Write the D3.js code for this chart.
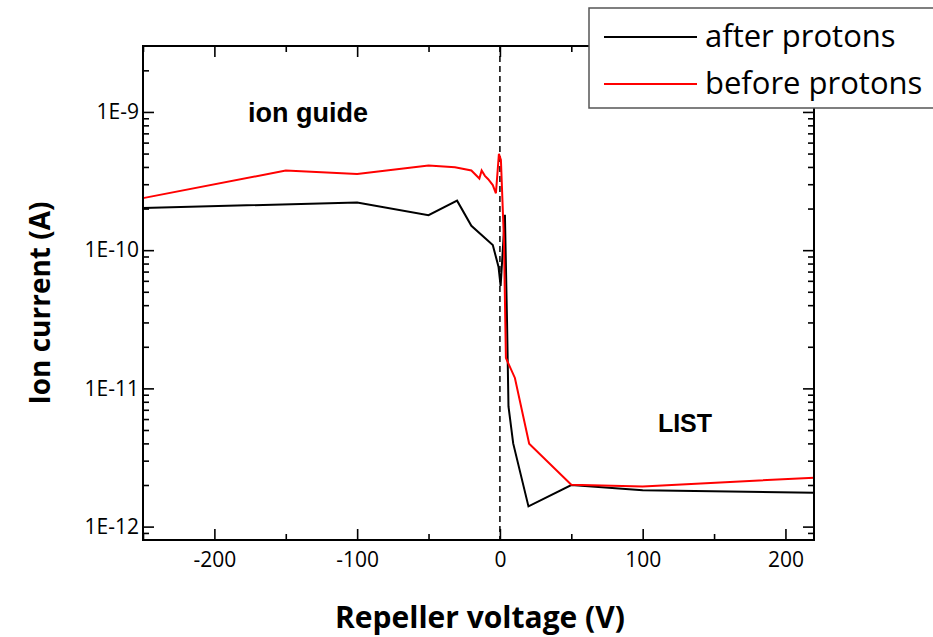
<!DOCTYPE html>
<html>
<head>
<meta charset="utf-8">
<script src="https://cdn.jsdelivr.net/npm/d3@7"></script>
<style>
  body { margin: 0; background: #fff; }
  .axisTitle { font-family: "Open Sans", sans-serif; font-weight: bold; fill: #000; }
  .note { font-family: "Liberation Sans", Arial, sans-serif; font-weight: bold; fill: #000; }
  .legendText { font-family: "Open Sans", sans-serif; font-size: 31px; fill: #000; }
</style>
</head>
<body>
<div id="chart"></div>
<script>
// data
var afterX = [-250, -100, -50, -30, -20, -5, -1, 0.5, 3.5, 5, 6, 9.3, 20, 50, 100, 220];
var afterY = [2.02e-10, 2.21e-10, 1.79e-10, 2.28e-10, 1.5e-10, 1.09e-10, 7.6e-11, 5.5e-11,
              1.8e-10, 3e-11, 7.4e-12, 4.0e-12, 1.4e-12, 2.0e-12, 1.83e-12, 1.76e-12];

var beforeX = [-250, -150, -100, -50, -31.5, -20, -14.4, -12.8, -10.5, -8.2, -5, -2.8, -0.7,
               0.7, 2.8, 4.2, 10.5, 20.5, 50, 100, 220];
var beforeY = [2.38e-10, 3.77e-10, 3.56e-10, 4.09e-10, 3.98e-10, 3.77e-10, 3.3e-10, 3.77e-10,
               3.45e-10, 3.26e-10, 2.96e-10, 2.58e-10, 4.97e-10, 4.5e-10, 1.2e-10, 1.66e-11,
               1.19e-11, 3.98e-12, 2.01e-12, 1.95e-12, 2.26e-12];

var xTicks = [-200, -100, 0, 100, 200];
var xMinor = [-250, -150, -50, 50, 150];
var yTicks = [1e-12, 1e-11, 1e-10, 1e-9];
var yTickLabels = ["1E-12", "1E-11", "1E-10", "1E-9"];
var seriesNames = ["after protons", "before protons"];
var seriesColors = ["#000000", "#ff0000"];

function drawChart() {
  var width = 933, height = 637;
  // plot box edges (note: "top" is a reserved window global, so use pTop)
  var pLeft = 143, pRight = 814, pTop = 46, pBottom = 540;

  var svg = d3.select("#chart").append("svg")
      .attr("width", width)
      .attr("height", height);

  var x = d3.scaleLinear().domain([-250, 220]).range([pLeft, pRight]);
  var y = d3.scaleLog().domain([8e-13, 3e-9]).range([pBottom, pTop]);

  // minor log ticks 2..9 in each decade
  var yMinor = [];
  for (var e = -13; e <= -9; e++) {
    for (var m = 2; m <= 9; m++) {
      var v = m * Math.pow(10, e);
      if (v > 8e-13 && v < 3e-9) yMinor.push(v);
    }
  }

  function styleAxis(g) {
    g.select(".domain").remove();
    g.selectAll("line").attr("stroke", "#000").attr("stroke-width", 1.6);
    g.selectAll("text")
      .attr("font-family", "'Open Sans', sans-serif")
      .attr("font-size", 21)
      .attr("fill", "#000");
  }

  // dashed zero line
  svg.append("line")
      .attr("x1", x(0)).attr("x2", x(0))
      .attr("y1", pTop).attr("y2", pBottom)
      .attr("stroke", "#000")
      .attr("stroke-width", 1.5)
      .attr("stroke-dasharray", "6,4");

  // data lines
  var line = d3.line()
      .x(function(d) { return x(d[0]); })
      .y(function(d) { return y(d[1]); });

  var afterData = afterX.map(function(v, i) { return [v, afterY[i]]; });
  var beforeData = beforeX.map(function(v, i) { return [v, beforeY[i]]; });

  svg.append("path")
      .datum(afterData)
      .attr("d", line)
      .attr("fill", "none")
      .attr("stroke", seriesColors[0])
      .attr("stroke-width", 2);

  svg.append("path")
      .datum(beforeData)
      .attr("d", line)
      .attr("fill", "none")
      .attr("stroke", seriesColors[1])
      .attr("stroke-width", 2);

  // axes, ticks point inward on all four sides
  svg.append("g").attr("transform", "translate(0," + pBottom + ")")
      .call(d3.axisBottom(x).tickValues(xTicks).tickSize(-11).tickPadding(12)
        .tickFormat(function(d) { return String(d); }))
      .call(styleAxis);
  svg.append("g").attr("transform", "translate(0," + pBottom + ")")
      .call(d3.axisBottom(x).tickValues(xMinor).tickSize(-6).tickFormat(""))
      .call(styleAxis);

  svg.append("g").attr("transform", "translate(0," + pTop + ")")
      .call(d3.axisTop(x).tickValues(xTicks).tickSize(-11).tickFormat(""))
      .call(styleAxis);
  svg.append("g").attr("transform", "translate(0," + pTop + ")")
      .call(d3.axisTop(x).tickValues(xMinor).tickSize(-6).tickFormat(""))
      .call(styleAxis);

  svg.append("g").attr("transform", "translate(" + pLeft + ",0)")
      .call(d3.axisLeft(y).tickValues(yTicks).tickSize(-11).tickPadding(4)
        .tickFormat(function(d, i) { return yTickLabels[i]; }))
      .call(styleAxis);
  svg.append("g").attr("transform", "translate(" + pLeft + ",0)")
      .call(d3.axisLeft(y).tickValues(yMinor).tickSize(-6).tickFormat(""))
      .call(styleAxis);

  svg.append("g").attr("transform", "translate(" + pRight + ",0)")
      .call(d3.axisRight(y).tickValues(yTicks).tickSize(-11).tickFormat(""))
      .call(styleAxis);
  svg.append("g").attr("transform", "translate(" + pRight + ",0)")
      .call(d3.axisRight(y).tickValues(yMinor).tickSize(-6).tickFormat(""))
      .call(styleAxis);

  // frame
  svg.append("rect")
      .attr("x", pLeft).attr("y", pTop)
      .attr("width", pRight - pLeft).attr("height", pBottom - pTop)
      .attr("fill", "none")
      .attr("stroke", "#000")
      .attr("stroke-width", 2);

  // annotations
  svg.append("text").attr("class", "note")
      .attr("x", 308).attr("y", 122)
      .attr("text-anchor", "middle")
      .style("font-size", "27px")
      .text("ion guide");

  svg.append("text").attr("class", "note")
      .attr("x", 685).attr("y", 432)
      .attr("text-anchor", "middle")
      .style("font-size", "25px")
      .text("LIST");

  // axis titles
  svg.append("text").attr("class", "axisTitle")
      .attr("transform", "translate(50,303) rotate(-90)")
      .attr("text-anchor", "middle")
      .style("font-size", "28px")
      .text("Ion current (A)");

  svg.append("text").attr("class", "axisTitle")
      .attr("x", 480).attr("y", 628)
      .attr("text-anchor", "middle")
      .style("font-size", "30px")
      .text("Repeller voltage (V)");

  // legend, box runs past the right edge
  var legend = svg.append("g");
  legend.append("rect")
      .attr("x", 589).attr("y", 8)
      .attr("width", 360).attr("height", 100)
      .attr("fill", "#fff")
      .attr("stroke", "#555")
      .attr("stroke-width", 1.5);

  seriesNames.forEach(function(name, i) {
    var ly = 37 + i * 47;
    legend.append("line")
        .attr("x1", 604).attr("x2", 697)
        .attr("y1", ly).attr("y2", ly)
        .attr("stroke", seriesColors[i])
        .attr("stroke-width", 2);
    legend.append("text").attr("class", "legendText")
        .attr("x", 705).attr("y", ly + 10)
        .text(name);
  });
}

drawChart();
</script>
</body>
</html>
